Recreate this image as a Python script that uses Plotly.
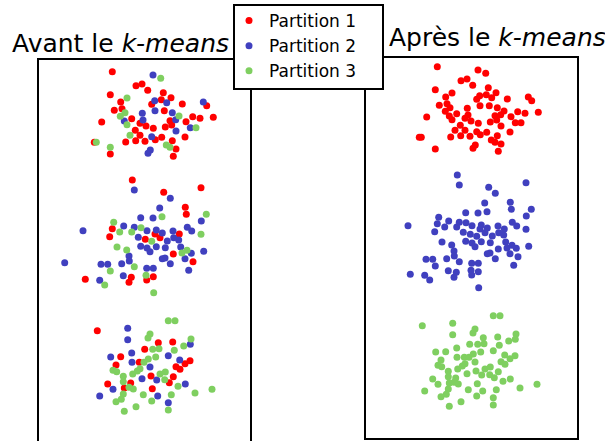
import plotly.graph_objects as go

W, H = 605, 441

# Upper group (ends up as cluster 1)
x_c1 = [74.3, 115, 122.7, 98, 104, 109.7, 72.3, 89, 125.3, 123.3, 133, 113.7, 116.7, 128.7,
        144.3, 165.3, 168.7, 82.7, 84, 76.3, 87, 82.3, 117, 126.3, 104.3, 134.3, 141, 105,
        93.7, 89, 86.3, 102, 108, 132, 137.7, 148, 154.7, 162, 175.3, 63.7, 115.3, 127.3,
        133.7, 138, 152.3, 158, 97.3, 92, 102, 113.7, 117.3, 123.7, 97.7, 107, 87.7, 134.3,
        147, 56.3, 58.3, 128.3, 132, 138, 112.3, 110, 72.3, 135.3]
y_c1 = [369.3, 366, 362.7, 355.3, 357, 350.7, 346.3, 343, 348.3, 341.3, 343.3, 336.7, 340.3, 338.3,
        337, 339, 335.3, 339, 332.3, 330.7, 328.3, 324.7, 330.3, 330.3, 327.7, 328.3, 325, 321,
        322.3, 316.3, 320, 317.7, 315, 320.3, 321.3, 319.3, 324.3, 322.7, 323.7, 319, 312.7, 314,
        316, 310, 313.3, 313.3, 310.7, 305.7, 305.7, 304.3, 301.3, 303.7, 300.3, 299.7, 299, 300.3,
        304, 298.7, 298.7, 296, 293.7, 292, 291, 287.7, 287, 284.7]
init_c1 = [1, 2, 3, 1, 1, 1, 1, 3, 1, 1, 1, 1, 2, 2,
           1, 2, 1, 1, 1, 1, 3, 3, 2, 1, 2, 2, 3, 2,
           1, 3, 2, 1, 1, 1, 2, 1, 1, 1, 1, 1, 1, 1,
           1, 2, 2, 3, 1, 3, 1, 2, 1, 1, 1, 1, 1, 1,
           1, 1, 3, 3, 3, 1, 2, 2, 1, 1]

# Middle group (ends up as cluster 2)
x_c2 = [94.3, 96.3, 125.7, 132.3, 163, 121.7, 147.3, 148.3, 168.3, 124, 102.7, 115, 163.3, 75.7,
        85.7, 74.3, 81.7, 93.7, 96.3, 103, 109, 118.3, 117, 122, 124.3, 135, 141.3, 149.3,
        153.7, 45, 71.7, 100.3, 107.3, 113.7, 118.3, 129.3, 135.7, 140.7, 163, 79, 88.7, 102.7,
        109, 112, 127.3, 142.7, 149, 144, 153.3, 165.7, 135.3, 91, 91.3, 124.3, 127, 147,
        155, 63, 69.7, 83.7, 132.3, 96.3, 108.7, 115.3, 72.3, 150.7, 85.3, 108, 93.3,
        115.3, 47.3, 61.7, 91, 108.7, 66.7, 115.7]
y_c2 = [261, 251, 248.7, 242.7, 253.3, 233, 233.7, 226.7, 226.7, 224.3, 223.3, 223, 220, 218.7,
        215, 212.3, 209, 209, 213.7, 213.3, 210.3, 211, 207, 203.3, 208, 210, 207, 213.7,
        210, 210.3, 204.3, 203.7, 201.7, 199.7, 194.3, 200, 203.3, 201, 206.7, 194, 191, 194.7,
        193, 189.3, 193.3, 194, 190.7, 188, 187.7, 189.7, 187, 185, 180, 182.3, 183, 182.3,
        179.3, 176.7, 176.7, 177.3, 177.3, 174.3, 172.7, 172.7, 170, 170.7, 165.3, 165.7, 163.7,
        164.3, 161.7, 160.7, 158.7, 161, 156, 148.3]
init_c2 = [1, 2, 1, 2, 1, 2, 1, 1, 3, 3, 2, 2, 2, 3,
           2, 1, 3, 3, 2, 3, 2, 2, 1, 1, 2, 2, 1, 2,
           2, 2, 1, 2, 1, 3, 2, 2, 2, 2, 3, 3, 3, 2,
           2, 2, 2, 2, 3, 3, 2, 2, 1, 2, 2, 2, 2, 2,
           1, 2, 2, 2, 2, 3, 2, 2, 3, 2, 2, 3, 1,
           1, 1, 2, 1, 1, 3, 3]

# Lower group (ends up as cluster 3)
x_c3 = [130.3, 137, 59.3, 89.7, 89.7, 112, 110, 153, 152.3, 120.3, 134.7, 145.7, 106.7, 114.7,
        121, 136.3, 72.7, 82.7, 93.7, 117.7, 130.3, 141.7, 152, 147, 78, 94, 101.3, 106,
        110.3, 112, 138, 142, 75, 78.7, 102, 99.3, 94.7, 122, 127.3, 85.3, 113, 135.3,
        104, 118.7, 126.7, 85.3, 92.7, 131.3, 69.7, 140, 147.3, 75, 86.3, 91, 95.3, 114.3,
        157, 174, 85.3, 105.3, 119.7, 133.3, 61.7, 83.3, 78, 113.7, 130.3, 98, 86.3, 130.3]
y_c3 = [120.3, 120.3, 110.3, 112.7, 101.3, 107, 103, 102, 96.7, 98.3, 99, 95, 91.7, 91.7,
        92.3, 90.7, 84, 84.3, 88, 84, 85.3, 81, 80.3, 77.3, 76, 78.7, 78.7, 78.7,
        82, 74, 74.3, 71.7, 70.7, 69.3, 72.3, 70, 67, 67, 69, 64.7, 65, 64.3,
        62.3, 61, 61.3, 59.3, 58, 58.3, 57, 54.7, 57, 51.7, 53, 53.7, 52, 52.3,
        48, 51.7, 47, 46.3, 45, 46.3, 45, 41.7, 39.3, 40, 38.3, 34.3, 29.7, 31]
init_c3 = [3, 3, 1, 2, 2, 3, 3, 3, 2, 1, 1, 3, 1, 3,
           3, 3, 2, 1, 2, 3, 2, 2, 1, 1, 1, 2, 1, 3,
           3, 2, 1, 1, 3, 3, 3, 3, 3, 3, 3, 3, 1, 1,
           2, 2, 3, 3, 1, 1, 1, 3, 2, 2, 1, 3, 3, 1,
           3, 3, 3, 3, 2, 3, 2, 3, 3, 3, 2, 3, 3, 3]

# Points present only in the initial view
x_before_only = [72.3, 26.7]
y_before_only = [293.7, 178.3]
init_before_only = [3, 2]

names = ["Partition 1", "Partition 2", "Partition 3"]
colors = ["#ff0000", "#4040bf", "#7fcf60"]

x_all = x_c1 + x_c2 + x_c3 + x_before_only
y_all = y_c1 + y_c2 + y_c3 + y_before_only
init_all = init_c1 + init_c2 + init_c3 + init_before_only
groups = [(x_c1, y_c1), (x_c2, y_c2), (x_c3, y_c3)]

fig = go.Figure()

# Left panel: points coloured by their initial partition
for k in range(3):
    xs = [x for x, p in zip(x_all, init_all) if p == k + 1]
    ys = [y for y, p in zip(y_all, init_all) if p == k + 1]
    fig.add_trace(go.Scatter(
        x=xs, y=ys, mode="markers", name=names[k], legendgroup=names[k],
        marker=dict(color=colors[k], size=7, line=dict(width=0)),
        xaxis="x", yaxis="y", cliponaxis=False,
    ))

# Right panel: points coloured by the cluster found by k-means
for k, (xs, ys) in enumerate(groups):
    fig.add_trace(go.Scatter(
        x=xs, y=ys, mode="markers", name=names[k], legendgroup=names[k],
        showlegend=False,
        marker=dict(color=colors[k], size=7, line=dict(width=0)),
        xaxis="x2", yaxis="y2", cliponaxis=False,
    ))


def px(v):
    return v / W


def py(v):
    return 1 - v / H


def box(x0, y0, x1, y1, fill="rgba(0,0,0,0)"):
    return dict(type="rect", xref="paper", yref="paper",
                x0=px(x0), x1=px(x1), y0=py(y1), y1=py(y0),
                line=dict(color="black", width=2), fillcolor=fill, layer="above")


font_family = "DejaVu Sans"

fig.update_layout(
    width=W, height=H, autosize=False,
    margin=dict(l=0, r=0, t=0, b=0),
    paper_bgcolor="white", plot_bgcolor="white",
    xaxis=dict(domain=[px(38), px(251)], range=[0, 213], visible=False),
    yaxis=dict(domain=[0, 1], range=[0, 441], visible=False, anchor="x"),
    xaxis2=dict(domain=[px(363), px(576)], range=[0, 213], visible=False, anchor="y2"),
    yaxis2=dict(domain=[0, 1], range=[-5, 436], visible=False, anchor="x2"),
    shapes=[
        box(38, 59, 251, 450),
        box(365, 57, 578, 439),
        box(234, 5, 383, 89, fill="white"),
    ],
    legend=dict(
        x=px(229), xanchor="left", y=py(3), yanchor="top",
        bgcolor="rgba(0,0,0,0)", borderwidth=0, tracegroupgap=0,
        font=dict(family=font_family, size=17, color="black"),
    ),
    annotations=[
        dict(text="Avant le <i>k-means</i>", x=px(10), y=py(43), xref="paper", yref="paper",
             xanchor="left", yanchor="middle", showarrow=False,
             font=dict(family=font_family, size=25, color="black")),
        dict(text="Après le <i>k-means</i>", x=px(387), y=py(37), xref="paper", yref="paper",
             xanchor="left", yanchor="middle", showarrow=False,
             font=dict(family=font_family, size=25, color="black")),
    ],
)

fig.write_html("out.html")
